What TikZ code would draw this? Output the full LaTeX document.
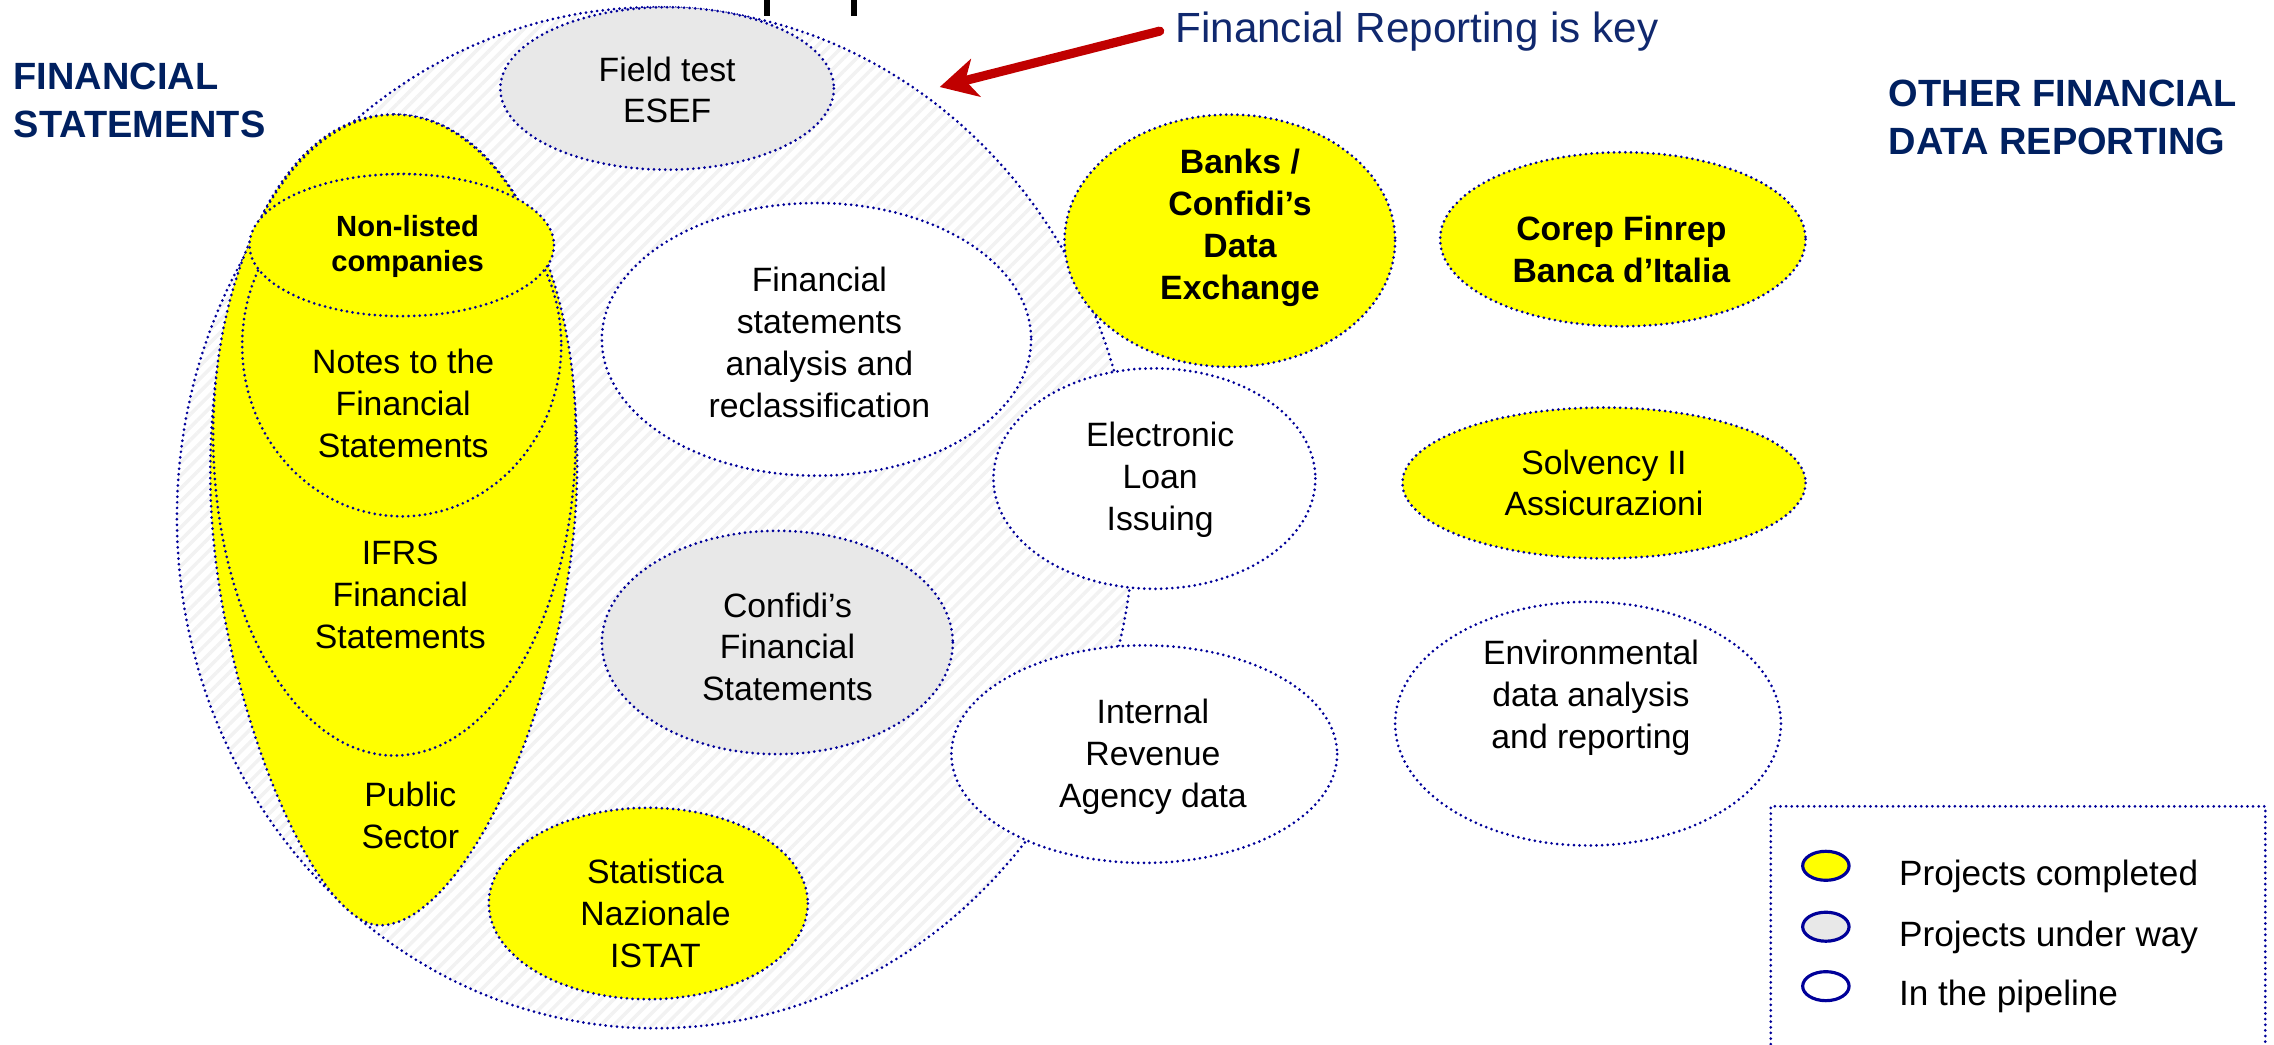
\documentclass[tikz,border=0pt]{standalone}
\usepackage{fontspec}
\setmainfont{Liberation Sans}
\usetikzlibrary{arrows.meta,patterns.meta}
\definecolor{yel}{RGB}{255,255,0}
\definecolor{wipgray}{RGB}{232,232,232}
\definecolor{dotblue}{RGB}{0,0,153}
\definecolor{navy}{RGB}{0,32,96}
\definecolor{keyblue}{RGB}{16,40,110}
\definecolor{arrowred}{RGB}{192,0,0}
\tikzset{
    dotb/.style={draw=dotblue, line width=0.85pt, line cap=round, dash pattern=on 0pt off 1.6pt},
    txt/.style={align=center, inner sep=0pt, font=\fontsize{9.6}{11.9}\selectfont},
    btxt/.style={align=center, inner sep=0pt, font=\bfseries\fontsize{9.6}{12}\selectfont},
    head/.style={align=left, anchor=west, inner sep=0pt, text=navy, font=\bfseries\fontsize{10.8}{13.6}\selectfont},
    legtxt/.style={anchor=base west, inner sep=0pt, font=\fontsize{10}{12}\selectfont},
    keyarrow/.style={arrowred, line width=2.6pt, line cap=round, -{Stealth[length=10.5pt,width=11pt,inset=3pt]}}
}
\begin{document}
\begin{tikzpicture}[x=0.0145cm,y=-0.0145cm]
\useasboundingbox (0,0) rectangle (1568,720);
%financial statements area
\path[pattern={Lines[angle=45,distance=2.6pt,line width=1pt]}, pattern color=black!5] (452,357) ellipse [x radius=330, y radius=352];
\draw[dotb] (452,357) ellipse [x radius=330, y radius=352];
%public sector (egg)
\draw[dotb, fill=yel] (271,79) .. controls (190,79) and (144,200) .. (145,330)
    .. controls (146,470) and (215,638) .. (262,638)
    .. controls (322,638) and (398,470) .. (398,320)
    .. controls (398,190) and (350,79) .. (271,79) -- cycle;
%projects
\foreach \cx/\cy/\rx/\ry/\col in {460/61/115/56/wipgray, 272/300/125/221/yel, 277/238/110/118/yel, 277/169/105/49/yel, 447/623/110/66/yel, 563/234/148/94/white, 536/443/121/77/wipgray, 848/166/114/87/yel, 796/330/111/76/white, 789/520/133/75/white, 1119/165/126/60/yel, 1106/333/139/52/yel, 1095/499/133/84/white}{
    \draw[dotb, fill=\col] (\cx,\cy) ellipse [x radius=\rx, y radius=\ry];
}
%top bars
\foreach \x in {529,589}{
    \draw[line width=1.7pt] (\x,0) -- (\x,11);
}
%labels
\node[txt] (esef) at (460,62) {Field test\\ESEF};
\node[btxt, font=\bfseries\fontsize{8.3}{10}\selectfont] (nonlisted) at (281,170) {Non-listed\\companies};
\node[txt] (notes) at (278,278) {Notes to the\\Financial\\Statements};
\node[txt] (ifrs) at (276,410) {IFRS\\Financial\\Statements};
\node[txt] (public) at (283,562) {Public\\Sector};
\node[txt] (istat) at (452,630) {Statistica\\Nazionale\\ISTAT};
\node[txt] (analysis) at (565,236) {Financial\\statements\\analysis and\\reclassification};
\node[txt] (confidi) at (543,446) {Confidi’s\\Financial\\Statements};
\node[btxt] (banks) at (855,157) {Banks /\\Confidi’s\\Data\\Exchange};
\node[txt] (loan) at (800,331) {Electronic\\Loan\\Issuing};
\node[txt] (revenue) at (795,522) {Internal\\Revenue\\Agency data};
\node[btxt] (corep) at (1118,172) {Corep Finrep\\Banca d’Italia};
\node[txt] (solvency) at (1106,333) {Solvency II\\Assicurazioni};
\node[txt] (environ) at (1097,481) {Environmental\\data analysis\\and reporting};
\node[head] (fs) at (9,69) {FINANCIAL\\STATEMENTS};
\node[head] (other) at (1302,81) {OTHER FINANCIAL\\DATA REPORTING};
%key message
\node[anchor=base west, inner sep=0pt, text=keyblue, font=\fontsize{12}{14}\selectfont] (key) at (810,29) {Financial Reporting is key};
\coordinate (keytip) at (648,60);
\draw[keyarrow] ([xshift=-0.15cm]key.west) -- (keytip);
%legend
\draw[dotb] (1221,720) -- (1221,556) -- (1562,556) -- (1562,720);
\foreach \y/\col/\t in {597/yel/Projects completed, 639/wipgray/Projects under way, 680/white/In the pipeline}{
    \draw[draw=dotblue, line width=0.9pt, fill=\col] (1259,\y) ellipse [x radius=16, y radius=10];
    \node[legtxt] (leg\col) at (1309,\y+13.5) {\t};
}
\end{tikzpicture}
\end{document}
